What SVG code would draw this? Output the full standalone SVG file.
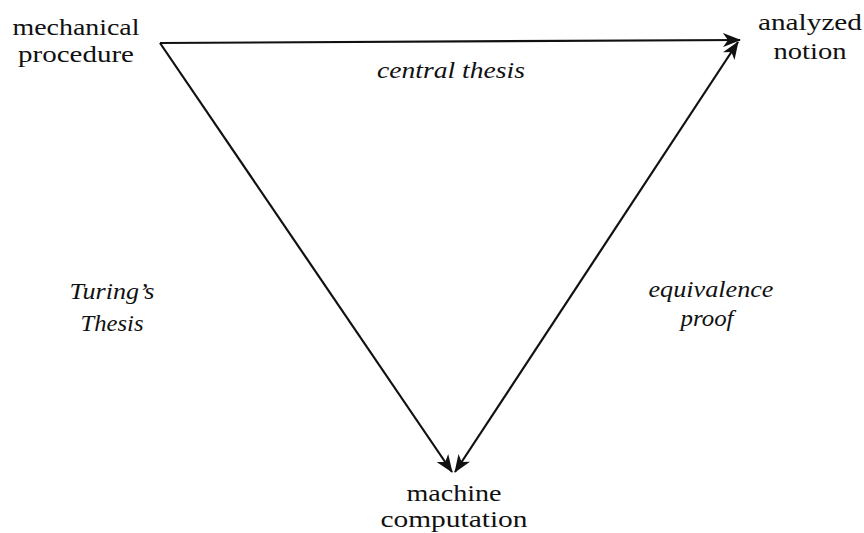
<svg xmlns="http://www.w3.org/2000/svg" width="864" height="533" viewBox="0 0 864 533">
<style>
text{font-size:24px;fill:#111;text-anchor:middle}
.it{font-style:italic}
.c{stroke:#111;stroke-width:2.2;fill:none}
</style>
<defs>
<marker id="ah" viewBox="0 0 18 14" refX="17" refY="7" markerWidth="18" markerHeight="14" markerUnits="userSpaceOnUse" orient="auto-start-reverse">
<path d="M0,0 L18,7 L0,14 L5,7 Z" fill="#111"/>
</marker>
</defs>
<rect width="864" height="533" fill="#fff"/>
<g id="connectors">
<path class="c" d="M160,43 L740,40" marker-end="url(#ah)"/>
<path class="c" d="M160,43 L452,472" marker-end="url(#ah)"/>
<path class="c" d="M738,42 L455,472" marker-start="url(#ah)" marker-end="url(#ah)"/>
</g>
<g font-family="Liberation Serif, Times New Roman, serif">
<g id="mechanical-procedure">
<text x="76" y="35" textLength="127" lengthAdjust="spacingAndGlyphs">mechanical</text>
<text x="76" y="62" textLength="116" lengthAdjust="spacingAndGlyphs">procedure</text>
</g>
<g id="analyzed-notion">
<text x="810" y="30" textLength="104" lengthAdjust="spacingAndGlyphs">analyzed</text>
<text x="810" y="59" textLength="73" lengthAdjust="spacingAndGlyphs">notion</text>
</g>
<g id="machine-computation">
<text x="454" y="501" textLength="95" lengthAdjust="spacingAndGlyphs">machine</text>
<text x="454" y="527" textLength="147" lengthAdjust="spacingAndGlyphs">computation</text>
</g>
<g id="central-thesis">
<text class="it" x="451" y="78" textLength="148" lengthAdjust="spacingAndGlyphs">central thesis</text>
</g>
<g id="turings-thesis">
<text class="it" x="112" y="299" textLength="85" lengthAdjust="spacingAndGlyphs">Turing’s</text>
<text class="it" x="112" y="331" textLength="63" lengthAdjust="spacingAndGlyphs">Thesis</text>
</g>
<g id="equivalence-proof">
<text class="it" x="711" y="297" textLength="125" lengthAdjust="spacingAndGlyphs">equivalence</text>
<text class="it" x="707" y="326" textLength="53" lengthAdjust="spacingAndGlyphs">proof</text>
</g>
</g>
</svg>
